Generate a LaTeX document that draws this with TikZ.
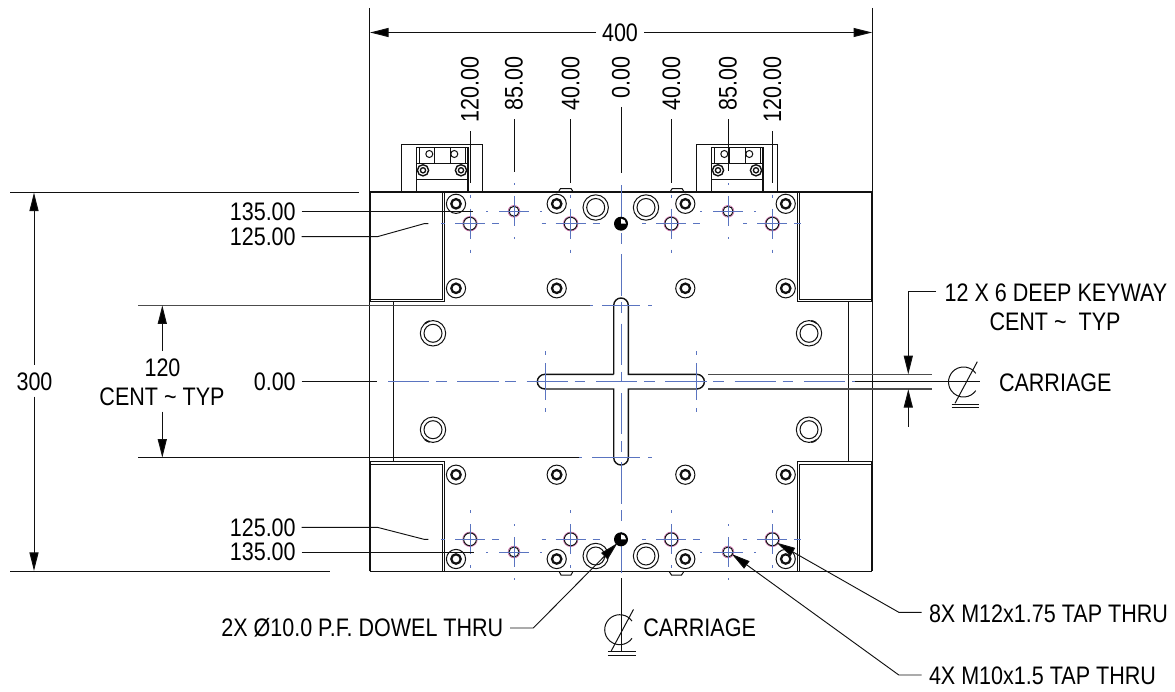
\documentclass[tikz,border=0pt]{standalone}
\usepackage{fontspec}
\setmainfont[FakeStretch=0.85]{Liberation Sans}
\usetikzlibrary{arrows.meta}
\definecolor{cadblue}{HTML}{5A74C0}
\definecolor{cadpink}{HTML}{D070B0}
\definecolor{cadink}{HTML}{111111}
\tikzset{
  thinln/.style={draw=cadink,line width=0.75pt},
  heavyln/.style={draw=cadink,line width=1.05pt},
  leaderln/.style={draw=cadink,line width=0.7pt},
  grayln/.style={draw=cadink!75,line width=0.95pt},
  dimtip/.style={-{Triangle[length=14pt,width=6.8pt,fill=black]}},
  cline/.style={draw=cadblue,line width=0.7pt},
  mainc/.style={draw=cadblue,line width=0.7pt,dash pattern=on 31pt off 5pt on 8pt off 8pt},
  lbl/.style={inner sep=0pt,outer sep=0pt,font=\fontsize{19}{22}\selectfont,text=black},
}
\newcommand{\ringhole}[2]{%
  \draw[thinln] (#1,#2) circle (9.6);
  \draw[draw=cadink,line width=1.7pt] (#1,#2) circle (4.7);
}
\newcommand{\bighole}[2]{%
  \draw[thinln] (#1,#2) circle (12.7);
  \draw[thinln] (#1,#2) circle (9);
}
\newcommand{\tapA}[2]{% M12
  \draw[draw=cadpink,line width=0.5pt] (#1,#2) circle (7.3);
  \draw[thinln] (#1,#2) circle (6.4);
  \draw[cline] (#1-15,#2)--(#1+15,#2) (#1,#2-15)--(#1,#2+15);
  \draw[cline] (#1-29,#2)--(#1-25,#2) (#1+22,#2)--(#1+29,#2) (#1,#2+26)--(#1,#2+29) (#1,#2-29)--(#1,#2-26);
}
\newcommand{\tapB}[2]{% M10
  \draw[draw=cadpink,line width=0.5pt] (#1,#2) circle (5.9);
  \draw[thinln] (#1,#2) circle (5);
  \draw[cline] (#1-15,#2)--(#1+15,#2) (#1,#2-15)--(#1,#2+15);
  \draw[cline] (#1-28,#2)--(#1-26,#2) (#1+26,#2)--(#1+28,#2) (#1,#2+26)--(#1,#2+28) (#1,#2-28)--(#1,#2-26);
}
\newcommand{\doweldot}[2]{%
  \fill[black] (#1,#2) circle (7);
  \fill[white] (#1,#2) -- (#1+5,#2) arc[start angle=0,end angle=-90,radius=5] -- cycle;
}
\newcommand{\bracket}[1]{%
  \draw[heavyln] (401.7+#1,192) |- (482.7+#1,144.7) -- (482.7+#1,192);
  \draw[heavyln] (416.7+#1,192) |- (468+#1,147.7) -- (468+#1,192);
  \draw[thinln] (419.3+#1,147.7) -- (419.3+#1,163.7) (465.3+#1,147.7) -- (465.3+#1,163.7);
  \draw[heavyln] (416.7+#1,163.7) -- (468+#1,163.7);
  \draw[thinln] (434.7+#1,147.7) -- (434.7+#1,163.7) (450+#1,147.7) -- (450+#1,163.7);
  \draw[thinln] (416.7+#1,179.7) -- (468+#1,179.7);
  \draw[thinln] (429.3+#1,154) circle (3.5) (454.3+#1,154) circle (3.5);
  \draw[heavyln] (423+#1,170.3) circle (5.6) (461+#1,170.3) circle (5.6);
  \draw[draw=cadink,line width=1pt] (423+#1,170.3) circle (2.6) (461+#1,170.3) circle (2.6);
}
\newcommand{\clsym}[2]{% centreline mark, offset from the right-hand one
  \draw[thinln] (975.8+#1,373.4+#2) arc[start angle=-35,end angle=-325,radius=15];
  \draw[thinln] (977.3+#1,361.7+#2) -- (955+#1,403.3+#2);
  \draw[thinln] (951.7+#1,404+#2) -- (979.3+#1,404+#2) (951.7+#1,407.6+#2) -- (979.3+#1,407.6+#2);
}
\begin{document}
\begin{tikzpicture}[x=0.75pt,y=-0.75pt]
\useasboundingbox (0,0) rectangle (1175,692);
\fill[white] (0,0) rectangle (1175,692);

% ---- main outline
\draw[heavyln] (370,192) -- (872,192);
\draw[heavyln] (370,571.3) -- (872,571.3);
% corner blocks
\draw[heavyln] (370,192) -- (370,301.7) -- (444.7,301.7) -- (444.7,192);
\draw[thinln] (370,299.5) -- (442.5,299.5) -- (442.5,192);
\draw[heavyln] (872,192) -- (872,301.7) -- (797.3,301.7) -- (797.3,192);
\draw[thinln] (872,299.5) -- (799.7,299.5) -- (799.7,192);
\draw[heavyln] (370,571.3) -- (370,461.7) -- (444.7,461.7) -- (444.7,571.3);
\draw[thinln] (370,464) -- (442.5,464) -- (442.5,571.3);
\draw[heavyln] (872,571.3) -- (872,461.7) -- (797.3,461.7) -- (797.3,571.3);
\draw[thinln] (872,464) -- (799.7,464) -- (799.7,571.3);
% end strips
\draw[thinln] (369,301.7) rectangle (393,461.7);
\draw[thinln] (848.7,301.7) rectangle (872.7,461.7);
% bumps
\draw[thinln] (558.3,192) -- (560.5,188.5) -- (571,188.5) -- (573.3,192);
\draw[thinln] (670,192) -- (672.2,188.5) -- (682,188.5) -- (684.2,192);
\draw[thinln] (559,571.3) -- (561,575) -- (571,575) -- (573,571.3);
\draw[thinln] (669,571.3) -- (671.5,575) -- (681.5,575) -- (684,571.3);

\bracket{0}
\bracket{295}

% ---- holes
\foreach \hx in {456,556.7,685.3,785.7}{
  \foreach \hy in {203.8,288.3,474.7,559}{ \ringhole{\hx}{\hy} }
}
\foreach \hx in {595.7,646}{
  \bighole{\hx}{207.5}
  \bighole{\hx}{556}
}
\foreach \hx in {433,809}{
  \bighole{\hx}{333.3}
  \bighole{\hx}{429.7}
}
\draw[draw=cadink,line width=1.2pt] (433,333.3) ++(-130:12.7) arc[start angle=-130,end angle=-105,radius=12.7];
\draw[draw=cadink,line width=1.2pt] (433,429.7) ++(130:12.7) arc[start angle=130,end angle=105,radius=12.7];
\draw[draw=cadink,line width=1.2pt] (809,333.3) ++(-55:12.7) arc[start angle=-55,end angle=-80,radius=12.7];
\draw[draw=cadink,line width=1.2pt] (809,429.7) ++(55:12.7) arc[start angle=55,end angle=80,radius=12.7];

% ---- keyway cross
\draw[heavyln]
  (613.7,374.3) -- (613.7,305.3) arc[start angle=180,end angle=0,x radius=7.3,y radius=-7.3]
  -- (628.3,374.3) -- (696.7,374.3) arc[start angle=90,end angle=-90,x radius=7.7,y radius=-7.35]
  -- (628.3,389) -- (628.3,457.7) arc[start angle=0,end angle=-180,x radius=7.3,y radius=-7.3]
  -- (613.7,389) -- (545,389) arc[start angle=270,end angle=90,x radius=7.7,y radius=-7.35]
  -- (613.7,374.3);

% ---- centre lines
\draw[mainc] (388,381.5) -- (855,381.5);
\draw[mainc] (621,185) -- (621,578);
\draw[cline] (590,305.3) -- (593,305.3) (602,305.3) -- (640,305.3) (648,305.3) -- (651.7,305.3);
\draw[cline] (579,457.7) -- (582,457.7) (592,457.7) -- (640,457.7) (648,457.7) -- (651.7,457.7);
\draw[cline] (545,351) -- (545,355) (545,363) -- (545,400) (545,408) -- (545,411.7);
\draw[cline] (696.7,351) -- (696.7,355) (696.7,363) -- (696.7,400) (696.7,408) -- (696.7,411.7);

% ---- tapped holes
\foreach \hx in {470,570.7,671.3,772.3}{
  \tapA{\hx}{223.7}
  \tapA{\hx}{539.3}
}
\foreach \hx in {514,728}{
  \tapB{\hx}{211.3}
  \tapB{\hx}{552}
}
\doweldot{621}{223.7}
\doweldot{621}{539.3}

% ---- dimension 400
\coordinate (ovL) at (369.5,8);
\coordinate (ovLb) at (369.5,290);
\coordinate (ovR) at (872.7,8);
\coordinate (ovRb) at (872.7,290);
\draw[thinln] (ovL) -- (ovLb);
\draw[thinln] (ovR) -- (ovRb);
\node[lbl] (d400) at (620,32.5) {400};
\coordinate (d400a) at (370,32.5);
\coordinate (d400b) at (872.2,32.5);
\draw[thinln,dimtip] ([xshift=-18pt]d400.center) -- (d400a);
\draw[thinln,dimtip] ([xshift=18pt]d400.center) -- (d400b);

% ---- top position labels
\foreach \nm/\tx/\lx/\ya/\yb in {tA/120.00/470/131.3/183,tB/85.00/514/119.3/171.7,tC/40.00/570.7/119.3/183.3,tD/0.00/621/107/173.3,tE/40.00/671.3/119.3/183.3,tF/85.00/728/119.3/171,tG/120.00/772.3/131.3/183}{
  \node[lbl,rotate=90,anchor=east] (\nm) at (\lx,56.5) {\tx};
  \coordinate (\nm a) at (\lx,\ya);
  \coordinate (\nm b) at (\lx,\yb);
  \draw[leaderln] (\nm a) -- (\nm b);
}

% ---- dimension 300
\node[lbl] (d300) at (34.5,381.7) {300};
\coordinate (d300t) at (34,192.5);
\coordinate (d300b) at (34,571);
\draw[leaderln] (10,192.5) -- (359,192.5);
\draw[leaderln] (10,571) -- (330,571);
\draw[thinln,dimtip] (d300.north -| d300t) ++(0,-8) -- (d300t);
\draw[thinln,dimtip] (d300.south -| d300b) ++(0,6) -- (d300b);

% ---- dimension 120
\node[lbl] (d120) at (162.5,368) {120};
\node[lbl] (d120c) at (162,396.7) {CENT \textasciitilde{} TYP};
\coordinate (d120t) at (162.3,305.3);
\coordinate (d120b) at (162.3,457.7);
\draw[grayln] (138,305.3) -- (590,305.3);
\draw[thinln] (138,457.7) -- (579,457.7);
\draw[thinln,dimtip] (162.3,351) -- (d120t);
\draw[thinln,dimtip] (162.3,411.7) -- (d120b);

% ---- left position labels
\node[lbl,anchor=east] (lA) at (295.7,212) {135.00};
\node[lbl,anchor=east] (lB) at (295.7,236.7) {125.00};
\node[lbl,anchor=east] (lC) at (295.7,381.7) {0.00};
\node[lbl,anchor=east] (lD) at (295.7,527.3) {125.00};
\node[lbl,anchor=east] (lE) at (295.7,552) {135.00};
\coordinate (lAe) at (473,211.3);
\coordinate (lCe) at (376.7,381.5);
\coordinate (lEe) at (474.3,552);
\draw[leaderln] (lA.east |- lAe) ++(6,0) -- (lAe);
\draw[leaderln] (301.7,236.7) -- (377.3,236.7) -- (424,223.7) -- (428.3,223.7);
\draw[leaderln] (lC.east |- lCe) ++(6,0) -- (lCe);
\draw[leaderln] (301.7,527.3) -- (377.3,527.3) -- (424,539.3) -- (428.3,539.3);
\draw[leaderln] (lE.east |- lEe) ++(6,0) -- (lEe);

% ---- keyway callout
\node[lbl] (kA) at (1056,293) {12 X 6 DEEP KEYWAY};
\node[lbl] (kB) at (1055,321.7) {CENT \textasciitilde{}\ \ TYP};
\node[lbl,anchor=west] (kC) at (999,382.7) {CARRIAGE};
\coordinate (kTop) at (908.3,291.5);
\coordinate (kTipA) at (908.3,374.3);
\coordinate (kTipB) at (908.3,389);
\coordinate (kEnd) at (908.3,426.7);
\draw[grayln] (708,374.3) -- (932.3,374.3) (708,389) -- (932.3,389);
\draw[thinln] (855,381.5) -- (980,381.5);
\draw[leaderln] (936,291.5) -- (kTop);
\draw[thinln,dimtip] (kTop) -- (kTipA);
\draw[thinln,dimtip] (kEnd) -- (kTipB);
\clsym{0}{0}

% ---- bottom callouts
\clsym{-343.8}{247.7}
\draw[thinln] (621,578) -- (621,651.7);
\node[lbl,anchor=west] (cB) at (643.4,628) {CARRIAGE};
\node[lbl,anchor=east] (dw) at (503.3,628) {2X Ø10.0 P.F. DOWEL THRU};
\coordinate (dwTip) at (617.5,543);
\draw[leaderln,dimtip] (510,628) -- (533.3,628) -- (dwTip);
\node[lbl,anchor=west] (m12) at (929,614) {8X M12x1.75 TAP THRU};
\coordinate (m12Tip) at (776.7,542.7);
\draw[leaderln,dimtip] (921.5,612.3) -- (898.8,612.3) -- (m12Tip);
\node[lbl,anchor=west] (m10) at (929,675.5) {4X M10x1.5 TAP THRU};
\coordinate (m10Tip) at (731.7,554);
\draw[leaderln,dimtip] (921.5,675) -- (898.8,675) -- (m10Tip);
\end{tikzpicture}
\end{document}
